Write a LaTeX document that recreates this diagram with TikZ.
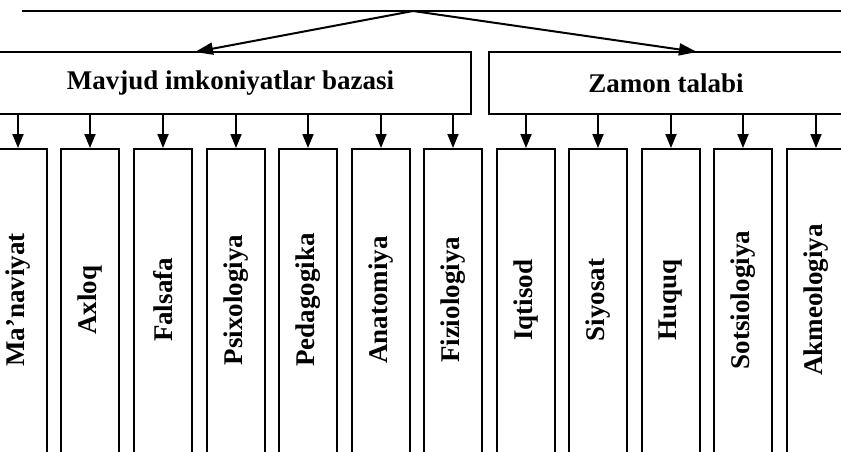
\documentclass[tikz,border=0pt]{standalone}
\usepackage{fontspec}
\setmainfont{Liberation Serif}
\usetikzlibrary{arrows.meta}
\begin{document}
\begin{tikzpicture}[x=1pt,y=-1pt,
  box/.style={draw,line width=1.6pt,rectangle,inner sep=0pt},
  col/.style={box,minimum width=58pt,minimum height=340pt,anchor=north},
  lbl/.style={rotate=90,font=\fontsize{27}{30}\selectfont\bfseries,inner sep=0pt},
  head/.style={font=\fontsize{27}{30}\selectfont\bfseries},
  arr/.style={line width=1.9pt,-{Triangle[width=11pt,length=14pt]}},
  toparr/.style={line width=2pt,-{Triangle[width=12pt,length=18pt]}}]
\useasboundingbox (0,0) rectangle (841,452);
\clip (0,0) rectangle (841,452);
% top (cropped) box edge
\coordinate (tl) at (22,11);
\coordinate (tr) at (870,11);
\draw[line width=1.6pt] (tl) -- (tr);
\coordinate (apex) at (413,11);
% second row
\node[box,minimum width=481pt,minimum height=62pt,head] (L) at (230.5,83) {Mavjud imkoniyatlar bazasi};
\node[box,minimum width=354pt,minimum height=62pt,head] (R) at (666,83) {Zamon talabi};
\coordinate (tipL) at (195,52);
\coordinate (tipR) at (697,52);
\draw[toparr] (apex) -- (tipL);
\draw[toparr] (apex) -- (tipR);
% columns
\foreach \x/\t/\p [count=\i] in {18/Ma’naviyat/L, 90/Axloq/L, 163/Falsafa/L, 236/Psixologiya/L,
    308/Pedagogika/L, 381/Anatomiya/L, 453/Fiziologiya/L, 526/Iqtisod/R, 598/Siyosat/R,
    671/Huquq/R, 743/Sotsiologiya/R, 816/Akmeologiya/R}{
  \node[col] (c\i) at (\x,148) {};
  \node[lbl] (t\i) at (\x,300) {\t};
  \draw[arr] (\p.south -| c\i.north) -- (c\i.north);
}
\end{tikzpicture}
\end{document}
